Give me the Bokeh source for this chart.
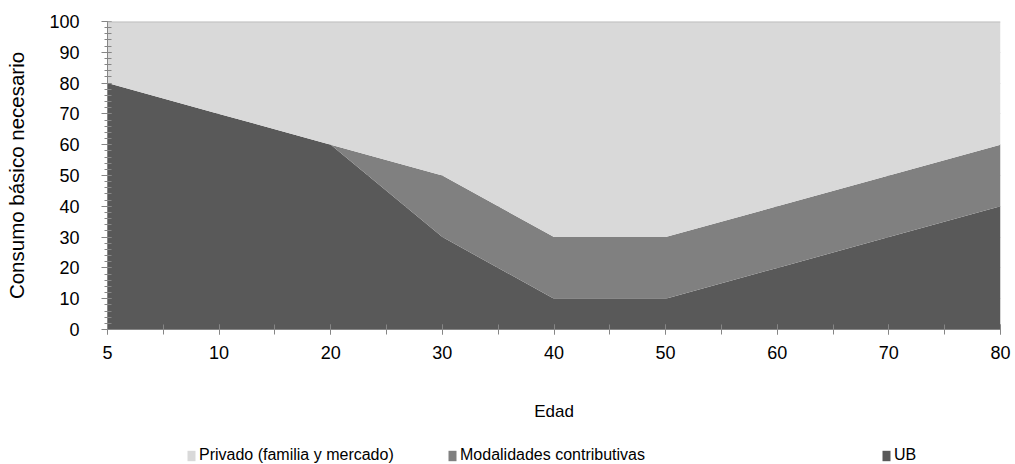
from bokeh.plotting import figure
from bokeh.models import (ColumnDataSource, FixedTicker, Legend, LegendItem, Span,
                          Range1d)
from bokeh.layouts import column
from bokeh.embed import file_html
from bokeh.resources import INLINE

# ---- data ----
ages = ["5", "10", "20", "30", "40", "50", "60", "70", "80"]
ub = [80, 70, 60, 30, 10, 10, 20, 30, 40]
contributivas = [0, 0, 0, 20, 20, 20, 20, 20, 20]
privado = [20, 30, 40, 50, 70, 70, 60, 50, 40]
series_names = ["UB", "Modalidades contributivas", "Privado (familia y mercado)"]
series_colors = ["#595959", "#808080", "#d9d9d9"]
y_ticks = list(range(0, 101, 10))

x_idx = list(range(len(ages)))
source = ColumnDataSource(dict(x=x_idx, ub=ub, contributivas=contributivas, privado=privado))
stackers = ["ub", "contributivas", "privado"]

FONT = "Liberation Sans"
AXIS_COLOR = "#868686"

p = figure(frame_width=893, frame_height=308, output_backend="svg", toolbar_location=None,
           x_range=Range1d(0, len(ages) - 1), y_range=Range1d(0, 100),
           min_border_left=107, min_border_right=15, min_border_top=21, min_border_bottom=111)
p.background_fill_color = "white"
p.border_fill_color = "white"
p.outline_line_color = None

renderers = p.varea_stack(stackers, x="x", source=source, color=series_colors)

# top line
p.add_layout(Span(location=100, dimension="width", line_color="#bfbfbf", line_width=2,
                  level="overlay"))

# grid
p.xgrid.visible = False
p.ygrid.grid_line_color = "#bfbfbf"
p.ygrid.ticker = FixedTicker(ticks=y_ticks)

# x axis
xa = p.xaxis[0]
xa.ticker = FixedTicker(ticks=x_idx, minor_ticks=[i * 0.5 for i in range(2 * len(ages) - 1)])
xa.major_label_overrides = {i: a for i, a in enumerate(ages)}
xa.axis_line_color = AXIS_COLOR
xa.major_tick_line_color = AXIS_COLOR
xa.minor_tick_line_color = AXIS_COLOR
xa.major_tick_in = 5
xa.major_tick_out = 5
xa.minor_tick_in = 5
xa.minor_tick_out = 5
xa.major_label_standoff = 11
xa.major_label_text_font = FONT
xa.major_label_text_font_size = "18px"
xa.major_label_text_color = "black"
xa.axis_label = "Edad"
xa.axis_label_text_font = FONT
xa.axis_label_text_font_size = "17px"
xa.axis_label_text_font_style = "normal"
xa.axis_label_text_color = "black"
xa.axis_label_standoff = 40

# y axis
ya = p.yaxis[0]
ya.ticker = FixedTicker(ticks=y_ticks, minor_ticks=list(range(0, 101, 2)))
ya.axis_line_color = AXIS_COLOR
ya.major_tick_line_color = AXIS_COLOR
ya.minor_tick_line_color = AXIS_COLOR
ya.major_tick_in = 4
ya.major_tick_out = 6
ya.minor_tick_in = 4
ya.minor_tick_out = 3
ya.major_label_standoff = 22
ya.major_label_text_font = FONT
ya.major_label_text_font_size = "18px"
ya.major_label_text_color = "black"
ya.axis_label = "Consumo básico necesario"
ya.axis_label_text_font = FONT
ya.axis_label_text_font_size = "20.5px"
ya.axis_label_text_font_style = "normal"
ya.axis_label_text_color = "black"
ya.axis_label_standoff = 18

# ---- legend strip (separate small figure below, so entries can sit where the reference has them)
leg = figure(width=1015, height=24, output_backend="svg", toolbar_location=None,
             x_range=Range1d(1000, 1001), y_range=Range1d(0, 1),
             x_axis_location=None, y_axis_location=None, min_border=0)
leg.outline_line_color = None
leg.grid.visible = False
leg.background_fill_color = "white"
leg.border_fill_color = "white"
leg_renderers = leg.varea_stack(stackers, x="x", source=source, color=series_colors)

legend_x = [79, 340, 774]
for i, lx in zip([2, 1, 0], legend_x):
    lg = Legend(items=[LegendItem(label=series_names[i], renderers=[leg_renderers[i]])],
                orientation="horizontal", location=(lx, 0),
                glyph_width=10, glyph_height=13, label_standoff=3,
                padding=0, margin=0, border_line_color=None, background_fill_alpha=0,
                label_text_font=FONT, label_text_font_size="16px", label_text_color="black")
    leg.add_layout(lg, "center")

layout = column(p, leg, spacing=0)

open("out.html", "w").write(file_html(layout, INLINE))
